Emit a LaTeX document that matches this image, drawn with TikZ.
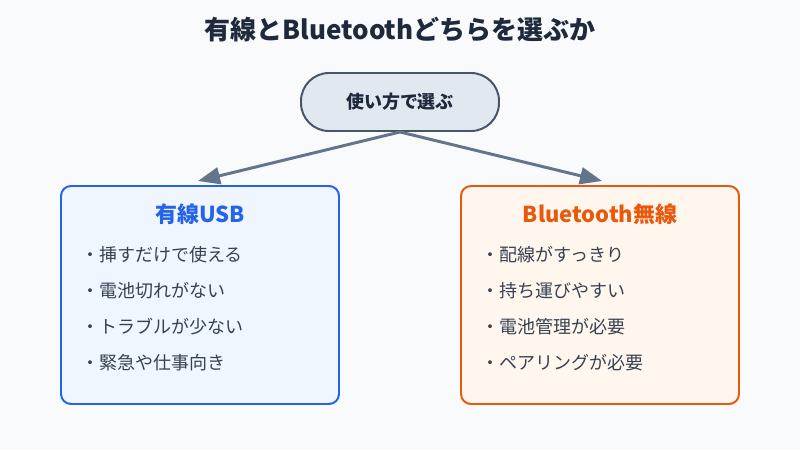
\documentclass[tikz,border=0pt]{standalone}
\usepackage{fontspec}
\newfontfamily\jpfont{Noto Sans CJK JP}
\usetikzlibrary{arrows.meta}
\definecolor{bgcol}{HTML}{F8FAFC}
\definecolor{inkdark}{HTML}{1E293B}
\definecolor{inkitem}{HTML}{374151}
\definecolor{choicefill}{HTML}{E2E8F0}
\definecolor{choicedraw}{HTML}{475569}
\definecolor{linkcol}{HTML}{64748B}
\definecolor{usbfill}{HTML}{EFF6FF}
\definecolor{usbdraw}{HTML}{2563EB}
\definecolor{btfill}{HTML}{FFF7ED}
\definecolor{btdraw}{HTML}{EA580C}
\tikzset{
  maintitle/.style={font=\jpfont\bfseries\fontsize{18.5pt}{22pt}\selectfont, text=inkdark},
  choice/.style={draw=choicedraw, fill=choicefill, line width=1.4pt, rounded corners=0.7cm,
    minimum width=4.95cm, minimum height=1.45cm, font=\jpfont\bfseries\fontsize{12.8pt}{15pt}\selectfont, text=inkdark},
  link/.style={line width=2.1pt, draw=linkcol, -{Triangle[length=0.55cm, width=0.42cm]}},
  usbbox/.style={draw=usbdraw, fill=usbfill, line width=1.4pt, rounded corners=0.25cm,
    minimum width=6.95cm, minimum height=5.45cm},
  btbox/.style={draw=btdraw, fill=btfill, line width=1.4pt, rounded corners=0.25cm,
    minimum width=6.95cm, minimum height=5.45cm},
  boxtitle/.style={font=\jpfont\bfseries\fontsize{15.6pt}{18pt}\selectfont},
  item/.style={anchor=west, inner sep=0pt, font=\jpfont\fontsize{12.8pt}{15pt}\selectfont, text=inkitem},
}

\begin{document}
\begin{tikzpicture}
\useasboundingbox (0,0) rectangle (20,11.25);
\fill[bgcol] (0,0) rectangle (20,11.25);
\node[maintitle] (title) at (10,10.5) {有線とBluetoothどちらを選ぶか};
\node[choice] (choice) at (10,8.7) {使い方で選ぶ};
% two options
\node[usbbox] (usb) at (5,3.875) {};
\node[btbox] (bt) at (15,3.875) {};
\coordinate (usbtip) at (4.95,6.725);
\coordinate (bttip) at (15.05,6.725);
\draw[link] (choice.south) -- (usbtip);
\draw[link] (choice.south) -- (bttip);
\node[boxtitle, text=usbdraw] (usbtitle) at (5,5.9) {有線USB};
\node[boxtitle, text=btdraw] (bttitle) at (15,5.9) {Bluetooth無線};
\node[item] (usba) at (2.025,4.875) {・挿すだけで使える};
\node[item] (usbb) at (2.025,3.975) {・電池切れがない};
\node[item] (usbc) at (2.025,3.075) {・トラブルが少ない};
\node[item] (usbd) at (2.025,2.175) {・緊急や仕事向き};
\node[item] (bta) at (12.025,4.875) {・配線がすっきり};
\node[item] (btb) at (12.025,3.975) {・持ち運びやすい};
\node[item] (btc) at (12.025,3.075) {・電池管理が必要};
\node[item] (btd) at (12.025,2.175) {・ペアリングが必要};
\end{tikzpicture}
\end{document}
